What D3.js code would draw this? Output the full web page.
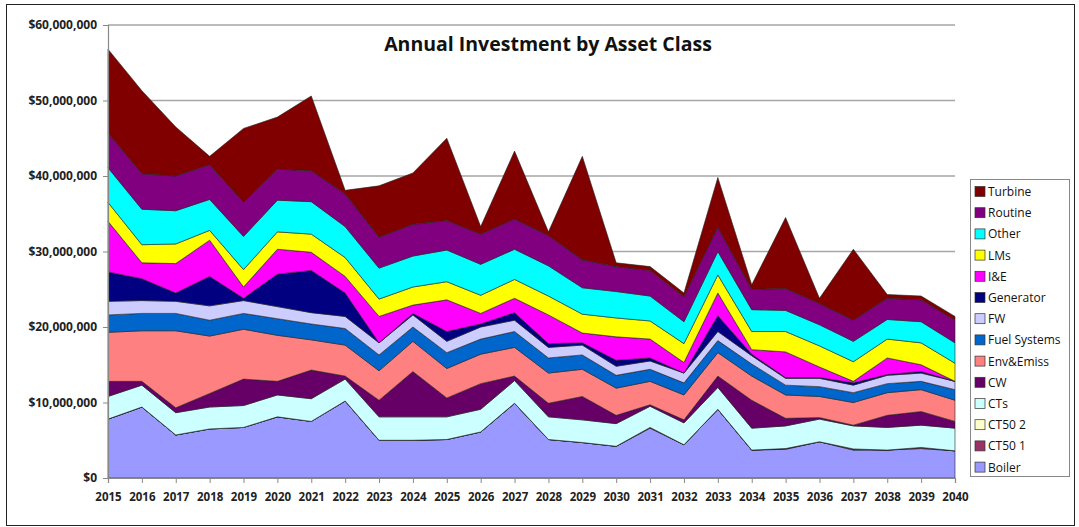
<!DOCTYPE html>
<html>
<head>
<style>
  body { margin: 0; background: #fff; }
  svg { display: block; }
</style>
</head>
<body>
<svg id="svg" width="1079" height="527"></svg>
<script src="https://d3js.org/d3.v7.min.js"></script>
<script>
// values in $ millions, 2015..2040
const years = d3.range(2015, 2041)
const boiler  = [7.8, 9.4, 5.7, 6.5, 6.7, 8.1, 7.5, 10.2, 5.0, 5.0, 5.1, 6.1, 9.9, 5.1, 4.7, 4.2, 6.6, 4.4, 9.1, 3.7, 3.8, 4.8, 3.7, 3.7, 3.9, 3.6]
const ct501   = [0, 0, 0, 0, 0, 0, 0, 0, 0, 0, 0, 0, 0, 0, 0, 0, 0.1, 0, 0, 0, 0.1, 0, 0.15, 0, 0.15, 0]
const ct502   = [0, 0, 0, 0, 0, 0, 0, 0, 0, 0, 0, 0, 0, 0, 0, 0, 0, 0, 0, 0, 0, 0, 0, 0, 0, 0]
const cts     = [3.0, 2.9, 2.95, 2.9, 2.9, 2.9, 3.0, 2.9, 3.1, 3.1, 3.0, 3.0, 3.0, 3.0, 3.0, 3.0, 2.8, 2.9, 2.9, 2.9, 3.0, 3.0, 3.05, 3.0, 2.95, 3.0]
const cw      = [2.0, 0.5, 0.65, 1.8, 3.5, 1.8, 3.8, 0.4, 2.2, 6.0, 2.5, 3.4, 0.6, 1.8, 3.1, 1.1, 0.2, 0.4, 1.5, 3.7, 1.0, 0.2, 0.1, 1.6, 1.8, 0.9]
const envEmiss = [6.5, 6.7, 10.2, 7.6, 6.6, 6.1, 4.0, 4.1, 3.9, 4.0, 3.9, 3.9, 3.8, 4.0, 3.6, 3.6, 3.1, 3.3, 3.1, 3.2, 3.1, 2.8, 3.0, 3.0, 2.9, 2.8]
const fuel    = [2.3, 2.3, 2.3, 2.1, 2.1, 2.2, 2.1, 2.2, 2.1, 1.9, 2.1, 2.0, 2.1, 2.0, 1.9, 1.7, 1.6, 1.6, 1.6, 1.6, 1.3, 1.3, 1.3, 1.2, 1.1, 1.4]
const fw      = [1.8, 1.7, 1.6, 1.9, 1.7, 1.6, 1.5, 1.6, 1.6, 1.6, 1.5, 1.6, 1.5, 1.4, 1.3, 1.2, 1.1, 1.3, 1.2, 1.1, 0.9, 1.1, 1.0, 1.1, 1.1, 1.1]
const generator = [3.9, 2.9, 1.1, 3.9, 0.3, 4.3, 5.6, 3.1, 0.0, 0.2, 1.3, 0.4, 1.0, 0.5, 0.3, 0.8, 0.4, 0.0, 2.1, 0.2, 0.1, 0.1, 0.3, 0.1, 0.2, 0.0]
const ie      = [6.7, 2.1, 3.9, 4.8, 1.5, 3.3, 2.4, 2.2, 3.5, 1.1, 4.2, 1.4, 1.9, 3.8, 1.3, 3.1, 2.5, 1.4, 3.0, 0.6, 3.4, 1.4, 0.2, 2.2, 0.9, 0.0]
const lms     = [2.5, 2.4, 2.6, 1.3, 2.3, 2.3, 2.4, 2.5, 2.3, 2.4, 2.4, 2.4, 2.5, 2.5, 2.5, 2.5, 2.4, 2.5, 2.4, 2.4, 2.7, 2.8, 2.6, 2.5, 2.9, 2.4]
const other   = [4.6, 4.7, 4.4, 4.1, 4.4, 4.2, 4.3, 4.1, 4.1, 4.1, 4.2, 4.1, 4.0, 4.0, 3.5, 3.5, 3.3, 2.9, 3.1, 2.9, 2.8, 2.8, 2.7, 2.6, 2.8, 2.7]
const routine = [4.6, 4.7, 4.6, 4.6, 4.5, 4.1, 4.1, 4.3, 4.1, 4.2, 3.9, 4.0, 4.0, 4.0, 3.7, 3.3, 3.4, 3.3, 3.2, 2.7, 2.9, 2.8, 2.8, 2.8, 2.9, 3.0]
const turbine = [11.1, 11.0, 6.5, 1.1, 9.8, 6.9, 9.9, 0.5, 6.8, 6.8, 10.9, 1.0, 9.0, 0.5, 13.7, 0.5, 0.5, 0.5, 6.6, 0.6, 9.4, 0.7, 9.4, 0.5, 0.5, 0.5]

const yTicks = [0, 10e6, 20e6, 30e6, 40e6, 50e6, 60e6]

// bottom to top
const series = [
  { name: 'Boiler', values: boiler, color: '#9999ff' },
  { name: 'CT50 1', values: ct501, color: '#993366' },
  { name: 'CT50 2', values: ct502, color: '#ffffcc' },
  { name: 'CTs', values: cts, color: '#ccffff' },
  { name: 'CW', values: cw, color: '#660066' },
  { name: 'Env&Emiss', values: envEmiss, color: '#ff8080' },
  { name: 'Fuel Systems', values: fuel, color: '#0066cc' },
  { name: 'FW', values: fw, color: '#ccccff' },
  { name: 'Generator', values: generator, color: '#000080' },
  { name: 'I&E', values: ie, color: '#ff00ff' },
  { name: 'LMs', values: lms, color: '#ffff00' },
  { name: 'Other', values: other, color: '#00ffff' },
  { name: 'Routine', values: routine, color: '#800080' },
  { name: 'Turbine', values: turbine, color: '#800000' }
]

const table = years.map((yr, i) => {
  const row = { year: yr }
  series.forEach(s => { row[s.name] = s.values[i] * 1e6 })
  return row
})

const svg = d3.select('#svg')
const font = '"Open Sans", Lato, sans-serif'

// outer frame
svg.append('rect')
  .attr('x', 6.5).attr('y', 4.5)
  .attr('width', 1068).attr('height', 521)
  .attr('fill', '#fff').attr('stroke', '#222').attr('stroke-width', 1)

const xscale = d3.scaleLinear().domain([2015, 2040]).range([108, 955])
const yscale = d3.scaleLinear().domain([0, 60e6]).range([478, 25])

// gridlines
svg.append('g')
  .selectAll('line')
  .data(yTicks.slice(1))
  .enter()
  .append('line')
  .attr('x1', 108).attr('x2', 955)
  .attr('y1', d => yscale(d)).attr('y2', d => yscale(d))
  .attr('stroke', '#a6a6a6').attr('stroke-width', 1.5)

const stack = d3.stack().keys(series.map(s => s.name))
const layers = stack(table)

const area = d3.area()
  .x(d => xscale(d.data.year))
  .y0(d => yscale(d[0]))
  .y1(d => yscale(d[1]))

svg.append('g')
  .selectAll('path')
  .data(layers)
  .enter()
  .append('path')
  .attr('d', area)
  .attr('fill', (d, i) => series[i].color)
  .attr('stroke', '#222')
  .attr('stroke-width', 0.6)
  .attr('stroke-linejoin', 'round')

// axes
const leftAxis = d3.axisLeft(yscale)
  .tickValues(yTicks)
  .tickFormat(d3.format('$,'))
  .tickSize(5)
  .tickPadding(6)
const gy = svg.append('g')
  .attr('transform', 'translate(108, 0)')
  .call(leftAxis)
gy.select('.domain').attr('stroke', '#888').attr('stroke-width', 1.2)
gy.selectAll('.tick line').attr('stroke', '#888')
gy.selectAll('text').attr('font-family', font).attr('font-weight', 'bold')
  .attr('font-size', 12).attr('fill', '#222')

const bottomAxis = d3.axisBottom(xscale)
  .tickValues(years)
  .tickFormat(d3.format('d'))
  .tickSize(5)
  .tickPadding(10)
const gx = svg.append('g')
  .attr('transform', 'translate(0, 478)')
  .call(bottomAxis)
gx.select('.domain').attr('stroke', '#888').attr('stroke-width', 1.2)
gx.selectAll('.tick line').attr('stroke', '#888')
gx.selectAll('text').attr('font-family', font).attr('font-weight', 'bold')
  .attr('font-size', 11.5).attr('fill', '#222')

// title
svg.append('text')
  .attr('x', 548).attr('y', 51)
  .attr('text-anchor', 'middle')
  .attr('font-family', font).attr('font-weight', 'bold')
  .attr('font-size', 19.5).attr('fill', '#111')
  .text('Annual Investment by Asset Class')

// legend
const legend = svg.append('g')
legend.append('rect')
  .attr('x', 970.5).attr('y', 179.5)
  .attr('width', 99).attr('height', 297)
  .attr('fill', '#fff').attr('stroke', '#888')

const legendItems = legend.selectAll('g.item')
  .data(series.slice().reverse())
  .enter()
  .append('g')
  .attr('class', 'item')
  .attr('transform', (d, i) => `translate(975, ${191.5 + i * 21.2})`)

legendItems.append('rect')
  .attr('x', 0).attr('y', -5)
  .attr('width', 10).attr('height', 10)
  .attr('fill', d => d.color)
  .attr('stroke', '#333').attr('stroke-width', 0.7)

legendItems.append('text')
  .attr('x', 13).attr('y', 4.5)
  .attr('font-family', font)
  .attr('font-size', 12).attr('fill', '#111')
  .text(d => d.name)
</script>
</body>
</html>
